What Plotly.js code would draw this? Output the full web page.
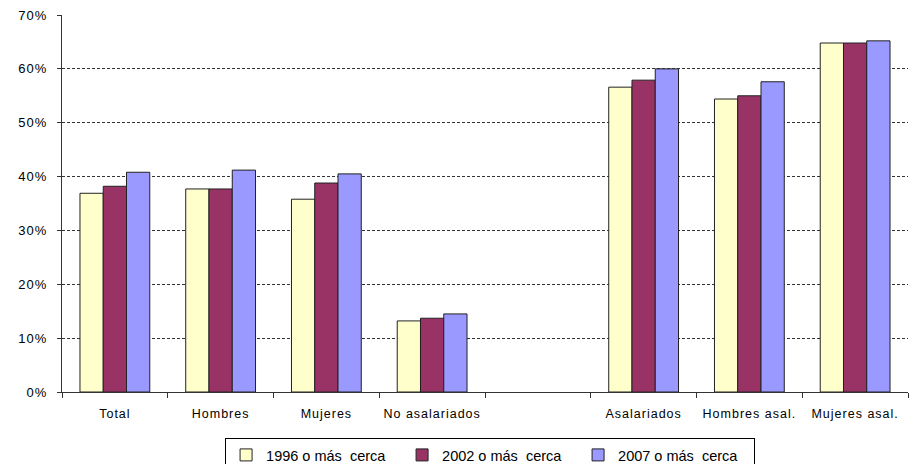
<!DOCTYPE html>
<html>
<head>
<meta charset="utf-8">
<script src="https://cdn.plot.ly/plotly-3.0.1.min.js"></script>
<style>
html,body{margin:0;padding:0;background:#fff;}
#chart{width:918px;height:464px;}
#chart .xtick text, #chart .ytick text {letter-spacing: 1px;}
</style>
</head>
<body>
<div id="chart"></div>
<script>
var categories = ["Total", "Hombres", "Mujeres", "No asalariados", " ", "Asalariados", "Hombres asal.", "Mujeres asal."];
var seriesNames = ["1996 o más  cerca", "2002 o más  cerca", "2007 o más  cerca"];
var v1996 = [0.369, 0.377, 0.358, 0.132, null, 0.566, 0.544, 0.648];
var v2002 = [0.382, 0.377, 0.388, 0.137, null, 0.579, 0.550, 0.648];
var v2007 = [0.408, 0.412, 0.405, 0.145, null, 0.600, 0.576, 0.652];
var yTicks = [0, 0.1, 0.2, 0.3, 0.4, 0.5, 0.6, 0.7];

var colors = ["#FFFFCC", "#993366", "#9999FF"];
var vals = [v1996, v2002, v2007];
var traces = vals.map(function(v, i){
  return {
    type: "bar",
    name: seriesNames[i],
    x: categories,
    y: v,
    marker: {color: colors[i], line: {color: "#222", width: 1}},
    hoverinfo: "none"
  };
});

var layout = {
  width: 918, height: 464,
  margin: {l: 62, r: 10, t: 15, b: 72, autoexpand: false},
  paper_bgcolor: "#fff", plot_bgcolor: "#fff",
  barmode: "group",
  bargap: 0.34,
  bargroupgap: 0,
  font: {family: "Liberation Sans, Arial, sans-serif", size: 13, color: "#000"},
  xaxis: {
    type: "category",
    categoryorder: "array",
    categoryarray: categories,
    showline: true, linecolor: "#333", linewidth: 1,
    ticks: "outside", ticklen: 5, tickcolor: "#333",
    tickson: "boundaries",
    ticklabelstandoff: 10,
    showgrid: false,
    tickfont: {size: 12.5},
    fixedrange: true
  },
  yaxis: {
    range: [0, 0.7],
    tickvals: yTicks,
    tickformat: ".0%",
    showline: true, linecolor: "#333", linewidth: 1,
    ticks: "outside", ticklen: 4, tickcolor: "#333",
    ticklabelstandoff: 7,
    showgrid: true, gridcolor: "#333", griddash: "3px,2px", gridwidth: 1,
    zeroline: false,
    tickfont: {size: 13},
    fixedrange: true
  },
  showlegend: true,
  legend: {
    orientation: "h",
    x: 0.506, xanchor: "center",
    y: -0.122, yanchor: "top",
    bordercolor: "#000", borderwidth: 1,
    font: {size: 14.5},
    itemwidth: 30,
    entrywidth: 131,
    traceorder: "normal"
  }
};

Plotly.newPlot("chart", traces, layout, {displayModeBar: false, staticPlot: true});
</script>
</body>
</html>
